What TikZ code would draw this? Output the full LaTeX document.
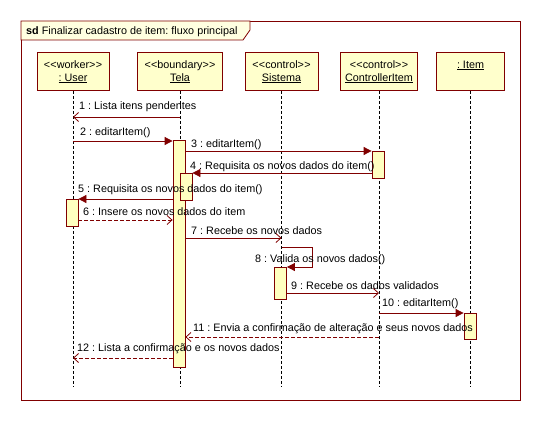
\documentclass[tikz,border=0pt]{standalone}
\usepackage{fontspec}
\setmainfont{Liberation Sans}[Ligatures=TeXOff]
\usetikzlibrary{arrows.meta,calc}
\definecolor{dred}{RGB}{128,0,0}
\definecolor{headfill}{RGB}{255,255,204}
\definecolor{actfill}{RGB}{255,255,192}
\definecolor{tabfill}{RGB}{255,255,224}
\newcommand{\llt}{<\kern0.3pt<}
\newcommand{\rgt}{>\kern0.3pt>}
\frenchspacing
\tikzset{
  txt/.style={font=\fontsize{10.8}{13}\selectfont, inner sep=0pt, anchor=base west},
  htxt/.style={font=\fontsize{10.8}{13}\selectfont, inner sep=0pt, anchor=base},
  headbox/.style={draw=dred, fill=headfill, line width=0.8pt, inner sep=0pt, minimum height=38},
  life/.style={draw=black, line width=0.7pt, dash pattern=on 3pt off 2pt},
  act/.style={draw=dred, fill=actfill, line width=0.8pt, inner sep=0pt, minimum width=12, anchor=north},
  sync/.style={draw=dred, line width=0.8pt, -{Triangle[length=8pt,width=8pt]}, color=dred},
  async/.style={draw=dred, line width=0.8pt, -{Straight Barb[length=5pt,width=9pt,line width=0.8pt]}},
  reply/.style={async, dash pattern=on 4pt off 2pt}
}
\begin{document}
\begin{tikzpicture}[x=1pt,y=-1pt]
\useasboundingbox (0,0) rectangle (540,420);
% frame
\node[draw=dred, line width=0.8pt, inner sep=0pt, minimum width=499, minimum height=379, anchor=north west] (frame) at (21,21) {};
\draw[dred, line width=0.8pt, fill=tabfill] (frame.north west) -- (250,21) -- (250,30) -- (243,40) -- (21,40) -- cycle;
\node[txt] (title) at (26,34.5) {\textbf{sd} Finalizar cadastro de item: fluxo principal};
% heads
\node[headbox, minimum width=72, anchor=north] (hU) at (73,52) {};
\node[headbox, minimum width=85, anchor=north] (hT) at (180,52) {};
\node[headbox, minimum width=73, anchor=north] (hS) at (281.5,52) {};
\node[headbox, minimum width=77, anchor=north] (hC) at (379,52) {};
\node[headbox, minimum width=68, anchor=north] (hI) at (470.5,52) {};
\node[htxt] (hU1) at (73,68) {\llt worker\rgt};
\node[htxt] (hU2) at (73,81) {\underline{: User}};
\node[htxt] (hT1) at (180,68) {\llt boundary\rgt};
\node[htxt] (hT2) at (180,81) {\underline{Tela}};
\node[htxt] (hS1) at (281.5,68) {\llt control\rgt};
\node[htxt] (hS2) at (281.5,81) {\underline{Sistema}};
\node[htxt] (hC1) at (379,68) {\llt control\rgt};
\node[htxt] (hC2) at (379,81) {\underline{ControllerItem}};
\node[htxt] (hI1) at (470.5,68) {\underline{: Item}};
% lifeline ends
\coordinate (eU) at (73,387);
\coordinate (eT) at (180,387);
\coordinate (eS) at (281.5,387);
\coordinate (eC) at (379,387);
\coordinate (eI) at (470.5,387);
\draw[life] (hU.south) -- (eU);
\draw[life] (hT.south) -- (eT);
\draw[life] (hS.south) -- (eS);
\draw[life] (hC.south) -- (eC);
\draw[life] (hI.south) -- (eI);
% activations
\node[act, minimum height=227] (aT) at (179,140) {};
\node[act, minimum height=27] (aT2) at (186,173) {};
\node[act, minimum height=27] (aC) at (378,151) {};
\node[act, minimum height=27] (aU) at (72,199) {};
\node[act, minimum height=32] (aS) at (280.5,267) {};
\node[act, minimum height=26] (aI) at (470,313) {};
% messages
\draw[async] (hT.south |- 0,117) -- (hU.south |- 0,117);
\node[txt] (l1) at (79,109) {1 : Lista itens pendentes};
\draw[sync] (hU.south |- 0,141) -- (aT.west |- 0,141);
\node[txt] (l2) at (80,135) {2 : editarItem()};
\draw[sync] (aT.east |- 0,151) -- (aC.north west);
\node[txt] (l3) at (191,147) {3 : editarItem()};
\draw[sync] (aC.west |- 0,173) -- (aT2.north east);
\node[txt] (l4) at (190,169) {4 : Requisita os novos dados do item()};
\draw[sync] (aT.west |- 0,199) -- (aU.north east);
\node[txt] (l5) at (78,192) {5 : Requisita os novos dados do item()};
\draw[reply] (aU.east |- 0,220) -- (aT.west |- 0,220);
\node[txt] (l6) at (83,215) {6 : Insere os novos dados do item};
\draw[async] (aT.east |- 0,238) -- (hS.south |- 0,238);
\node[txt] (l7) at (191,234) {7 : Recebe os novos dados};
\coordinate (s8a) at (312,247);
\coordinate (s8b) at (312,267);
\draw[sync] (hS.south |- 0,247) -- (s8a) -- (s8b) -- (aS.north east);
\node[txt] (l8) at (255,262) {8 : Valida os novos dados()};
\draw[async] (aS.east |- 0,293) -- (hC.south |- 0,293);
\node[txt] (l9) at (291,289) {9 : Recebe os dados validados};
\draw[sync] (hC.south |- 0,313) -- (aI.north west);
\node[txt] (l10) at (382,306.5) {10 : editarItem()};
\draw[reply] (hC.south |- 0,337) -- (aT.east |- 0,337);
\node[txt] (l11) at (193,331) {11 : Envia a confirmação de alteração e seus novos dados};
\draw[reply] (aT.west |- 0,358) -- (hU.south |- 0,358);
\node[txt] (l12) at (77,351) {12 : Lista a confirmação e os novos dados};
\end{tikzpicture}
\end{document}
